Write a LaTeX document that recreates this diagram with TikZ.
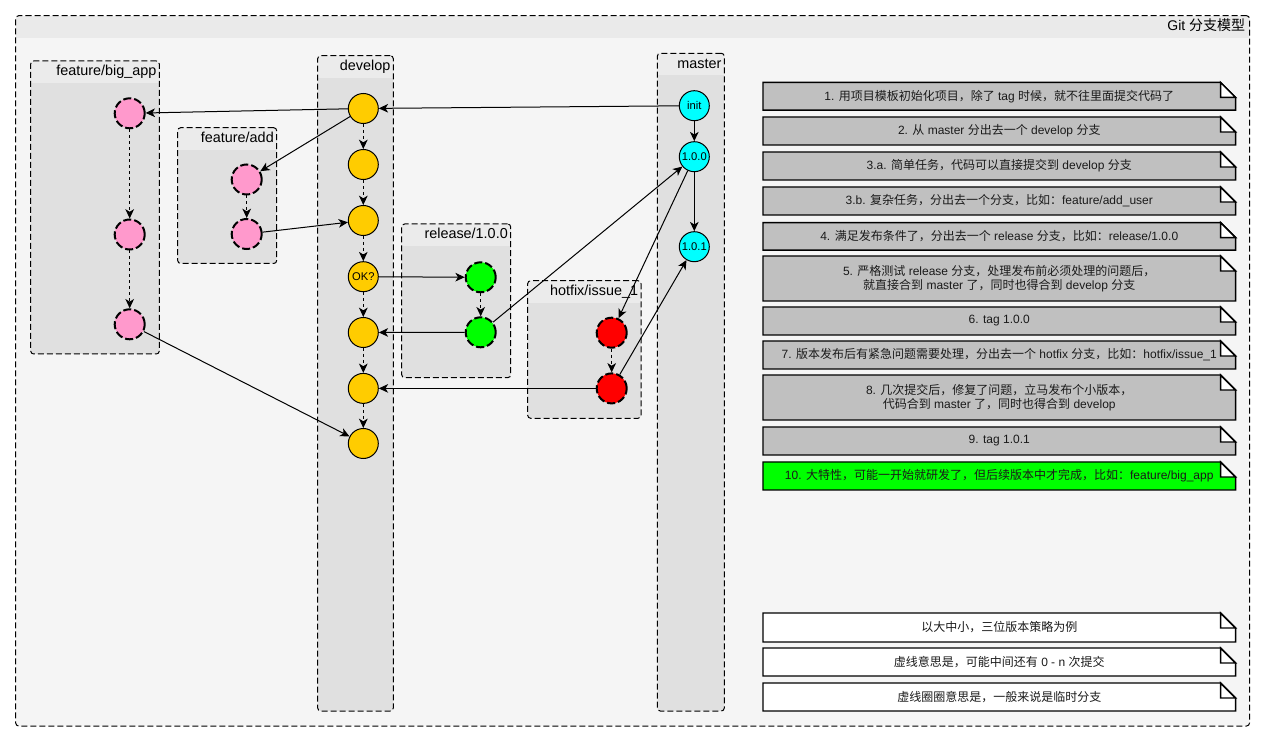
\documentclass[tikz,border=0pt]{standalone}
\usepackage{fontspec}
\setmainfont{Liberation Sans}
\newfontfamily\cjk{Noto Sans CJK SC}
\newcommand\zh[1]{{\cjk #1}}
\usetikzlibrary{arrows.meta,fit}

\definecolor{framebody}{HTML}{F5F5F5}
\definecolor{framehead}{HTML}{EAEAEA}
\definecolor{lanebody}{HTML}{E0E0E0}
\definecolor{lanehead}{HTML}{EBEBEB}
\definecolor{devyellow}{HTML}{FFCC00}
\definecolor{featpink}{HTML}{FF99CC}
\definecolor{relgreen}{HTML}{00FF00}
\definecolor{fixred}{HTML}{FF0000}
\definecolor{tagcyan}{HTML}{00FFFF}
\definecolor{notegray}{HTML}{C0C0C0}
\definecolor{ink}{HTML}{1A1A1A}

\pgfdeclarelayer{frame}
\pgfdeclarelayer{sheets}
\pgfsetlayers{frame,sheets,main}

\begin{document}
\begin{tikzpicture}[x=0.75pt, y=-0.75pt,
  box/.style={draw, line width=0.75pt, dash pattern=on 4.5pt off 2.25pt,
    rounded corners=2.25pt, inner sep=0pt, outer sep=0pt},
  frame/.style={box, fill=framebody,
    path picture={\fill[framehead, sharp corners] (path picture bounding box.north west)
      rectangle ([yshift=-16.5pt]path picture bounding box.north east);}},
  lane/.style={box, fill=lanebody,
    path picture={\fill[lanehead, sharp corners] (path picture bounding box.north west)
      rectangle ([yshift=-16.5pt]path picture bounding box.north east);}},
  lanetitle/.style={anchor=north east, minimum height=16.5pt, inner xsep=2pt, inner ysep=0pt,
    text height=7.8pt, text depth=2.2pt, font=\fontsize{10.8}{12}\selectfont},
  frametitle/.style={lanetitle, inner xsep=3pt, font=\fontsize{10.5}{12}\selectfont},
  commit/.style={circle, draw, line width=0.75pt, minimum size=22.5pt, inner sep=0pt,
    font=\fontsize{8.4}{9}\selectfont},
  temp/.style={commit, line width=1.5pt, dash pattern=on 6pt off 2.25pt},
  link/.style={draw, line width=0.75pt, -{Stealth[length=7pt, width=6.5pt, inset=2pt]}},
  hop/.style={link, dash pattern=on 2.25pt off 2.25pt},
  note/.style={rectangle, inner sep=0pt, outer sep=0pt, align=center, text=ink,
    minimum width=354.4pt, font=\fontsize{9}{10.8}\selectfont},
  sheet/.style={draw=black, line width=1.1pt, line join=miter}
]
\useasboundingbox (0,0) rectangle (1265,741);

\begin{pgfonlayer}{frame}
  \fill[white] (0,0) rectangle (1265,741);
  \node[frame, fit={(15.7,15.7) (1249.5,726)}] (model) {};
\end{pgfonlayer}
\node[frametitle] (modelT) at (model.north east) {Git \zh{分支模型}};

% branch lanes
\node[lane, fit={(30.7,61) (159.3,354)}] (bigapp) {};
\node[lane, fit={(177.7,127.7) (276.7,263.5)}] (addlane) {};
\node[lane, fit={(317.7,55.7) (393.3,711)}] (develop) {};
\node[lane, fit={(401.7,224) (510.7,377.7)}] (release) {};
\node[lane, fit={(527.7,280.7) (641,418.3)}] (hotfix) {};
\node[lane, fit={(657.3,53.3) (724.3,711)}] (master) {};

\node[lanetitle] (bigappT) at (bigapp.north east) {feature/big\_app};
\node[lanetitle] (addT) at (addlane.north east) {feature/add};
\node[lanetitle] (developT) at (develop.north east) {develop};
\node[lanetitle] (releaseT) at (release.north east) {release/1.0.0};
\node[lanetitle] (hotfixT) at (hotfix.north east) {hotfix/issue\_1};
\node[lanetitle] (masterT) at (master.north east) {master};

% commits
\node[temp, fill=featpink] (b1) at (129.7,113.3) {};
\node[temp, fill=featpink] (b2) at (129.7,234.5) {};
\node[temp, fill=featpink] (b3) at (129.7,324.3) {};
\node[temp, fill=featpink] (a1) at (246.7,179.5) {};
\node[temp, fill=featpink] (a2) at (246.7,234) {};

\node[commit, fill=devyellow] (d1) at (363.3,108.5) {};
\node[commit, fill=devyellow] (d2) at (363.3,164.5) {};
\node[commit, fill=devyellow] (d3) at (363.3,220.5) {};
\node[commit, fill=devyellow] (d4) at (363.3,276.7) {OK?};
\node[commit, fill=devyellow] (d5) at (363.3,332.5) {};
\node[commit, fill=devyellow] (d6) at (363.3,388.4) {};
\node[commit, fill=devyellow] (d7) at (363.3,443.5) {};

\node[temp, fill=relgreen] (r1) at (480.7,277.3) {};
\node[temp, fill=relgreen] (r2) at (480.7,332.3) {};
\node[temp, fill=fixred] (h1) at (611.7,332.7) {};
\node[temp, fill=fixred] (h2) at (611.7,388.4) {};

\node[commit, fill=tagcyan] (init) at (694.3,105.7) {init};
\node[commit, fill=tagcyan] (v100) at (694.3,156.7) {1.0.0};
\node[commit, fill=tagcyan] (v101) at (694.3,246.7) {1.0.1};

% history
\draw[link] (init) -- (d1);
\draw[link] (init) -- (v100);
\draw[link] (v100) -- (v101);
\draw[link] (d1) -- (b1);
\draw[link] (d1) -- (a1);
\draw[hop] (d1) -- (d2);
\draw[hop] (d2) -- (d3);
\draw[hop] (d3) -- (d4);
\draw[hop] (d4) -- (d5);
\draw[hop] (d5) -- (d6);
\draw[hop] (d6) -- (d7);
\draw[hop] (a1) -- (a2);
\draw[link] (a2) -- (d3);
\draw[hop] (b1) -- (b2);
\draw[hop] (b2) -- (b3);
\draw[link] (b3) -- (d7);
\draw[link] (d4) -- (r1);
\draw[hop] (r1) -- (r2);
\draw[link] (r2) -- (d5);
\draw[link] (r2) -- (v100);
\draw[link] (v100) -- (h1);
\draw[hop] (h1) -- (h2);
\draw[link] (h2) -- (d6);
\draw[link] (h2) -- (v101);

% notes
\node[note, minimum height=20.8pt] (n1) at (999.25,96.2)
  {1. \zh{用项目模板初始化项目，除了} tag \zh{时候，就不往里面提交代码了}};
\node[note, minimum height=21pt] (n2) at (999.25,131)
  {2. \zh{从} master \zh{分出去一个} develop \zh{分支}};
\node[note, minimum height=21pt] (n3a) at (999.25,166)
  {3.a. \zh{简单任务，代码可以直接提交到} develop \zh{分支}};
\node[note, minimum height=21pt] (n3b) at (999.25,201)
  {3.b. \zh{复杂任务，分出去一个分支，比如：}feature/add\_user};
\node[note, minimum height=20.6pt] (n4) at (999.25,236.3)
  {4. \zh{满足发布条件了，分出去一个} release \zh{分支，比如：}release/1.0.0};
\node[note, minimum height=33.75pt] (n5) at (999.25,278.5)
  {5. \zh{严格测试} release \zh{分支，处理发布前必须处理的问题后，}\\
   \zh{就直接合到} master \zh{了，同时也得合到} develop \zh{分支}};
\node[note, minimum height=21pt] (n6) at (999.25,321) {6. tag 1.0.0};
\node[note, minimum height=21pt] (n7) at (999.25,355)
  {7. \zh{版本发布后有紧急问题需要处理，分出去一个} hotfix \zh{分支，比如：}hotfix/issue\_1};
\node[note, minimum height=33.75pt] (n8) at (999.25,397.5)
  {8. \zh{几次提交后，修复了问题，立马发布个小版本，}\\
   \zh{代码合到} master \zh{了，同时也得合到} develop};
\node[note, minimum height=21pt] (n9) at (999.25,441) {9. tag 1.0.1};
\node[note, minimum height=21pt] (n10) at (999.25,476)
  {10. \zh{大特性，可能一开始就研发了，但后续版本中才完成，比如：}feature/big\_app};
\node[note, minimum height=21.75pt] (w1) at (999.25,627.5) {\zh{以大中小，三位版本策略为例}};
\node[note, minimum height=21pt] (w2) at (999.25,662) {\zh{虚线意思是，可能中间还有} 0 - n \zh{次提交}};
\node[note, minimum height=21pt] (w3) at (999.25,697) {\zh{虚线圈圈意思是，一般来说是临时分支}};

\begin{pgfonlayer}{sheets}
  \foreach \n/\c in {n1/notegray, n2/notegray, n3a/notegray, n3b/notegray, n4/notegray,
                     n5/notegray, n6/notegray, n7/notegray, n8/notegray, n9/notegray,
                     n10/relgreen, w1/white, w2/white, w3/white}{
    \draw[sheet, fill=\c] (\n.south west) -- (\n.north west)
      -- ([xshift=-11.25pt]\n.north east) -- ([yshift=-11.25pt]\n.north east)
      -- (\n.south east) -- cycle;
    \draw[sheet, fill=white] ([xshift=-11.25pt]\n.north east)
      -- ([xshift=-11.25pt, yshift=-11.25pt]\n.north east)
      -- ([yshift=-11.25pt]\n.north east) -- cycle;
  }
\end{pgfonlayer}
\end{tikzpicture}
\end{document}
